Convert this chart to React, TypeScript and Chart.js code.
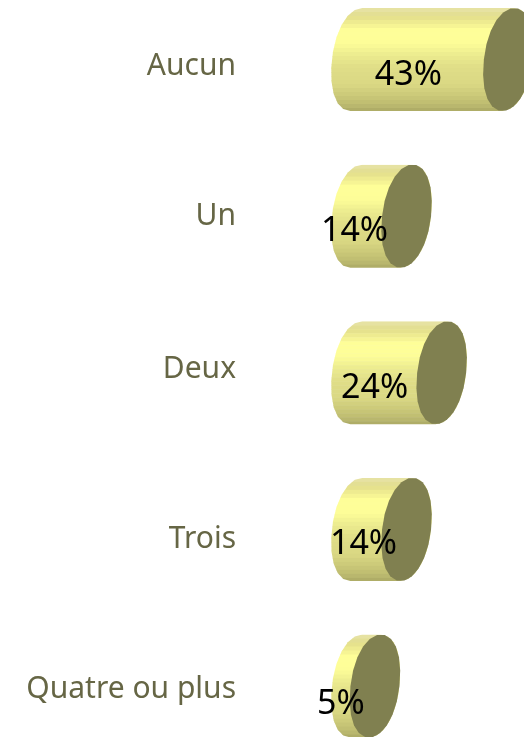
import React, { useEffect, useRef } from "react";
import { Chart, registerables } from "chart.js";

Chart.register(...registerables);

const categories = ["Aucun", "Un", "Deux", "Trois", "Quatre ou plus"];
const shares = [43, 14, 24, 14, 5];
const shareLabels = ["43%", "14%", "24%", "14%", "5%"];

// label placement quirks of the original (pixels relative to the bar)
const categoryDy = [7, 0, -3, 10, 3];
const valueDx = [-100, -52, -67, -43, -34];
const valueDy = [16, 15, 16, 15, 18];

const bandStops: [number, string][] = [
  [0, "#e6e2a2"], [0.06, "#e2de8c"], [0.12, "#efec90"], [0.2, "#ffff99"], [0.32, "#fdfd98"],
  [0.42, "#eeee90"], [0.55, "#e0de88"], [0.72, "#dad884"], [0.84, "#cac878"], [0.93, "#bab86e"], [1, "#a8a662"],
];

function hex(c: string) {
  return [1, 3, 5].map((i) => parseInt(c.slice(i, i + 2), 16));
}
function bandColor(t: number) {
  for (let i = 1; i < bandStops.length; i++) {
    if (t <= bandStops[i][0]) {
      const [a, ca] = bandStops[i - 1];
      const [b, cb] = bandStops[i];
      const k = (t - a) / (b - a);
      const A = hex(ca), B = hex(cb);
      return `rgb(${A.map((v, j) => Math.round(v + (B[j] - v) * k)).join(",")})`;
    }
  }
  return bandStops[bandStops.length - 1][1];
}

const RX = 24.5;
const SHEAR = 6;
const STEPS = 22;
const ROUNDNESS = 0.95;

function ellipsePoint(cx: number, cy: number, ry: number, a: number): [number, number] {
  const c = Math.cos(a), s = Math.sin(a);
  const sx = Math.sign(c) * Math.pow(Math.abs(c), ROUNDNESS);
  const sy = Math.sign(s) * Math.pow(Math.abs(s), ROUNDNESS);
  return [cx + RX * sx + SHEAR * s, cy - ry * sy];
}

const cylinderPlugin = {
  id: "cylinder",
  afterDatasetsDraw(chart: any) {
    const { ctx } = chart;
    const bars = chart.getDatasetMeta(0).data;
    const yScale = chart.scales.y;
    bars.forEach((bar: any, i: number) => {
      const ry = bar.height / 2;
      const top = bar.y - ry;
      ctx.save();
      ctx.beginPath();
      for (let s = 0; s <= STEPS / 2; s++) {
        const a = Math.PI / 2 + (s / (STEPS / 2)) * Math.PI;
        const [px, py] = ellipsePoint(bar.base - 1, bar.y, ry, a);
        s === 0 ? ctx.moveTo(px, py) : ctx.lineTo(px, py);
      }
      for (let s = 0; s <= STEPS / 2; s++) {
        const a = -Math.PI / 2 + (s / (STEPS / 2)) * Math.PI;
        const [px, py] = ellipsePoint(bar.x, bar.y, ry, a);
        ctx.lineTo(px, py);
      }
      ctx.closePath();
      ctx.clip();
      const bandH = 4;
      for (let y = 0; y < bar.height; y += bandH) {
        ctx.fillStyle = bandColor(y / bar.height);
        ctx.fillRect(bar.base - 40, top + y, bar.x - bar.base + 80, bandH + 0.5);
      }
      ctx.restore();

      ctx.beginPath();
      for (let s = 0; s < STEPS; s++) {
        const [px, py] = ellipsePoint(bar.x, bar.y, ry, (s / STEPS) * Math.PI * 2);
        s === 0 ? ctx.moveTo(px, py) : ctx.lineTo(px, py);
      }
      ctx.closePath();
      ctx.fillStyle = "#808050";
      ctx.fill();

      ctx.font = '30px "Noto Sans"';
      ctx.fillStyle = "#666645";
      ctx.textAlign = "right";
      ctx.textBaseline = "middle";
      ctx.fillText(yScale.getLabelForValue(i), 236, yScale.getPixelForValue(i) + categoryDy[i]);

      ctx.font = '34px "Noto Sans"';
      ctx.fillStyle = "#000000";
      ctx.textAlign = "center";
      ctx.fillText(shareLabels[i], bar.x + valueDx[i], bar.y + valueDy[i]);
    });
  },
};

export default function App() {
  const ref = useRef<HTMLCanvasElement>(null);
  useEffect(() => {
    document.body.style.margin = "0";
    const chart = new Chart(ref.current!, {
      type: "bar",
      plugins: [cylinderPlugin],
      data: {
        labels: categories,
        datasets: [{ data: shares, backgroundColor: "rgba(0,0,0,0)", barThickness: 103 }],
      },
      options: {
        indexAxis: "y",
        animation: false,
        responsive: false,
        layout: { padding: { left: 357.4, right: 1.6, top: 59.5, bottom: 51 } },
        plugins: { legend: { display: false }, tooltip: { enabled: false } },
        scales: {
          x: { display: false, min: 0, max: 47, grid: { display: false } },
          y: { display: false, offset: false, grid: { display: false } },
        },
      },
    });
    return () => chart.destroy();
  }, []);
  return <canvas ref={ref} width={524} height={737} style={{ display: "block" }} />;
}
